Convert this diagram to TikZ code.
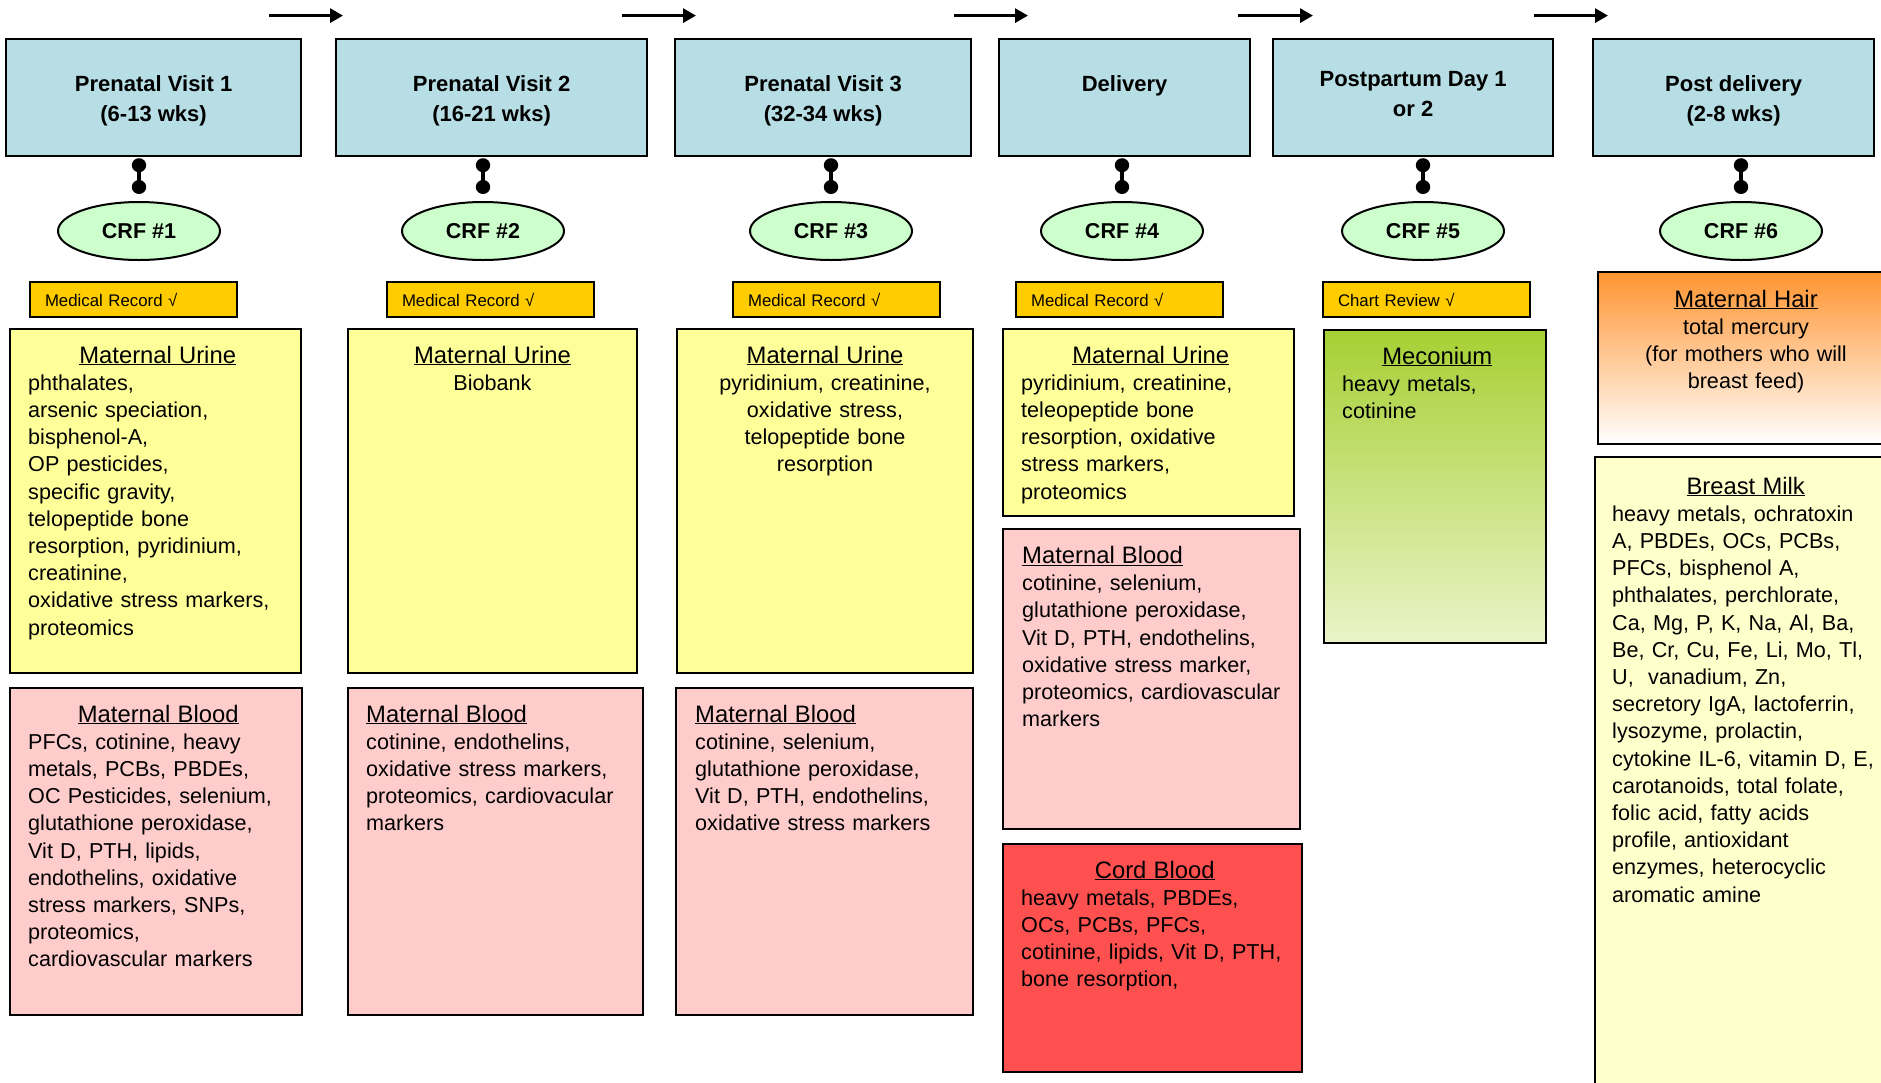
\documentclass[tikz,border=0pt]{standalone}
\usepackage{fontspec}
\setmainfont{Liberation Sans}
\usetikzlibrary{shapes,arrows,positioning,calc,arrows.meta}

\definecolor{visitblue}{RGB}{183,222,228}
\definecolor{crfgreen}{RGB}{204,255,204}
\definecolor{recgold}{RGB}{255,204,0}
\definecolor{urineyel}{RGB}{255,255,153}
\definecolor{bloodpink}{RGB}{255,204,204}
\definecolor{cordred}{RGB}{255,80,80}
\definecolor{milkyel}{RGB}{255,255,204}
\definecolor{mectop}{RGB}{166,208,52}
\definecolor{mecbot}{RGB}{234,243,200}
\definecolor{hairtop}{RGB}{255,148,48}

\newcommand{\headfont}{\fontsize{22}{30}\selectfont\bfseries}
\newcommand{\crffont}{\fontsize{21.5}{25}\selectfont\bfseries}
\newcommand{\recfont}{\fontsize{16.8}{20}\selectfont}
\newcommand{\bodyfont}{\fontsize{21.6}{27.2}\selectfont}
\newcommand{\titlefont}{\fontsize{23.8}{27.2}\selectfont}
% title centred over a left-aligned list
\newcommand{\boxtitle}[1]{\makebox[\linewidth]{\titlefont\underline{#1}}}
% title set in line with the list
\newcommand{\plaintitle}[1]{{\titlefont\underline{#1}}}

\tikzset{
  visit/.style={draw, line width=2.2pt, fill=visitblue, anchor=north west,
    minimum height=117, inner sep=0, align=center, font=\headfont},
  crf/.style={ellipse, draw, line width=2pt, fill=crfgreen, minimum width=162,
    minimum height=58, inner sep=0, font=\crffont},
  record/.style={draw, line width=2pt, fill=recgold, anchor=north west,
    minimum width=207, minimum height=35, text width=177, inner xsep=15,
    inner ysep=0, align=left, font=\recfont},
  sample/.style={draw, line width=2pt},
  ltext/.style={anchor=base west, inner sep=0, align=left, font=\bodyfont},
  ctext/.style={anchor=base, inner sep=0, align=center, font=\bodyfont},
  flow/.style={line width=3pt, -{Triangle[length=13pt,width=14pt]}},
  stem/.style={line width=3.5pt}
}

\begin{document}
\begin{tikzpicture}[x=1pt,y=-1pt]
    \useasboundingbox (0,0) rectangle (1881,1082);
    \clip (0,0) rectangle (1881,1082);

    % Timeline arrows
    \draw[flow] (269,15.6) -- (343,15.6);
    \draw[flow] (622,15.6) -- (696,15.6);
    \draw[flow] (954,15.6) -- (1028,15.6);
    \draw[flow] (1238,15.6) -- (1313,15.6);
    \draw[flow] (1534,15.6) -- (1608,15.6);

    % Visits
    \node[visit, minimum width=295] (v1) at (5,38) {\rule{0pt}{23.2pt}Prenatal Visit 1\\(6-13 wks)};
    \node[visit, minimum width=311] (v2) at (335,38) {\rule{0pt}{23.2pt}Prenatal Visit 2\\(16-21 wks)};
    \node[visit, minimum width=296] (v3) at (674,38) {\rule{0pt}{23.2pt}Prenatal Visit 3\\(32-34 wks)};
    \node[visit, minimum width=251] (v4) at (998,38) {\rule{0pt}{18.3pt}Delivery\\\mbox{}};
    \node[visit, minimum width=280] (v5) at (1272,38) {Postpartum Day 1\\or 2\rule[-7.2pt]{0pt}{0pt}};
    \node[visit, minimum width=281] (v6) at (1592,38) {\rule{0pt}{23.2pt}Post delivery\\(2-8 wks)};

    % Case report forms
    \node[crf] (c1) at (139,231) {CRF \#1};
    \node[crf] (c2) at (483,231) {CRF \#2};
    \node[crf] (c3) at (831,231) {CRF \#3};
    \node[crf] (c4) at (1122,231) {CRF \#4};
    \node[crf] (c5) at (1423,231) {CRF \#5};
    \node[crf] (c6) at (1741,231) {CRF \#6};

    % Dumbbell links
    \foreach \i in {1,...,6} {
        \draw[stem] ($(v\i.south -| c\i.north)+(0,8)$) coordinate (t\i)
            -- ($(c\i.north)+(0,-14)$) coordinate (d\i);
        \fill (t\i) ellipse (7.2 and 7);
        \fill (d\i) ellipse (7.2 and 7);
    }

    % Records
    \node[record] (r1) at (29,281) {Medical Record √};
    \node[record] (r2) at (386,281) {Medical Record √};
    \node[record] (r3) at (732,281) {Medical Record √};
    \node[record] (r4) at (1015,281) {Medical Record √};
    \node[record] (r5) at (1322,281) {Chart Review √};

    % Visit 1
    \draw[sample, fill=urineyel] (10,329) rectangle (301,673);
    \node[ltext, text width=259] (u1) at (28,363) {\boxtitle{Maternal Urine}\\
        phthalates,\\arsenic speciation,\\bisphenol-A,\\OP pesticides,\\
        specific gravity,\\telopeptide bone\\resorption, pyridinium,\\
        creatinine,\\oxidative stress markers,\\proteomics};
    \draw[sample, fill=bloodpink] (10,688) rectangle (302,1015);
    \node[ltext, text width=260] (b1) at (28,722) {\boxtitle{Maternal Blood}\\
        PFCs, cotinine, heavy\\metals, PCBs, PBDEs,\\OC Pesticides, selenium,\\
        glutathione peroxidase,\\Vit D, PTH, lipids,\\endothelins, oxidative\\
        stress markers, SNPs,\\proteomics,\\cardiovascular markers};

    % Visit 2
    \draw[sample, fill=urineyel] (348,329) rectangle (637,673);
    \node[ctext, text width=253] (u2) at (492.5,363) {\plaintitle{Maternal Urine}\\Biobank};
    \draw[sample, fill=bloodpink] (348,688) rectangle (643,1015);
    \node[ltext, text width=263] (b2) at (366,722) {\plaintitle{Maternal Blood}\\
        cotinine, endothelins,\\oxidative stress markers,\\
        proteomics, cardiovacular\\markers};

    % Visit 3
    \draw[sample, fill=urineyel] (677,329) rectangle (973,673);
    \node[ctext, text width=260] (u3) at (825,363) {\plaintitle{Maternal Urine}\\
        pyridinium, creatinine,\\oxidative stress,\\telopeptide bone\\resorption};
    \draw[sample, fill=bloodpink] (676,688) rectangle (973,1015);
    \node[ltext, text width=265] (b3) at (695,722) {\plaintitle{Maternal Blood}\\
        cotinine, selenium,\\glutathione peroxidase,\\Vit D, PTH, endothelins,\\
        oxidative stress markers};

    % Delivery
    \draw[sample, fill=urineyel] (1003,329) rectangle (1294,516);
    \node[ltext, text width=259] (u4) at (1021,363) {\boxtitle{Maternal Urine}\\
        pyridinium, creatinine,\\teleopeptide bone\\resorption, oxidative\\
        stress markers,\\proteomics};
    \draw[sample, fill=bloodpink] (1003,529) rectangle (1300,829);
    \node[ltext, text width=265] (b4) at (1022,563.5) {\plaintitle{Maternal Blood}\\
        cotinine, selenium,\\glutathione peroxidase,\\Vit D, PTH, endothelins,\\
        oxidative stress marker,\\proteomics, cardiovascular\\markers};
    \draw[sample, fill=cordred] (1003,844) rectangle (1302,1072);
    \node[ltext, text width=267] (cb) at (1021,878) {\boxtitle{Cord Blood}\\
        heavy metals, PBDEs,\\OCs, PCBs, PFCs,\\cotinine, lipids, Vit D, PTH,\\
        bone resorption,};

    % Postpartum
    \draw[sample, top color=mectop, bottom color=mecbot] (1324,330) rectangle (1546,643);
    \node[ltext, text width=190] (mc) at (1342,364) {\boxtitle{Meconium}\\
        heavy metals,\\cotinine};

    % Post delivery
    \draw[sample, top color=hairtop, bottom color=white] (1598,272) rectangle (1894,444);
    \node[ctext, text width=260] (mh) at (1746,307) {\plaintitle{Maternal Hair}\\
        total mercury\\(for mothers who will\\breast feed)};
    \draw[sample, fill=milkyel] (1595,457) rectangle (1894,1100);
    \node[ltext, text width=267] (bm) at (1612,494) {\boxtitle{Breast Milk}\\
        heavy metals, ochratoxin\\A, PBDEs, OCs, PCBs,\\PFCs, bisphenol A,\\
        phthalates, perchlorate,\\Ca, Mg, P, K, Na, Al, Ba,\\
        Be, Cr, Cu, Fe, Li, Mo, Tl,\\U,~ vanadium, Zn,\\
        secretory IgA, lactoferrin,\\lysozyme, prolactin,\\
        cytokine IL-6, vitamin D, E,\\carotanoids, total folate,\\
        folic acid, fatty acids\\profile, antioxidant\\
        enzymes, heterocyclic\\aromatic amine};
\end{tikzpicture}
\end{document}
